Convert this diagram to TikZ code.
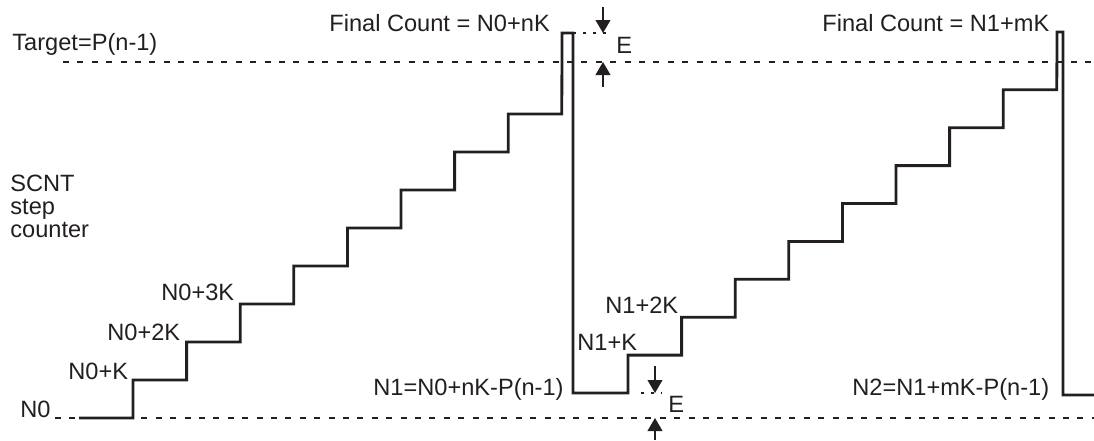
\documentclass[tikz,border=0pt]{standalone}
\usepackage{fontspec}
\setmainfont{Liberation Sans}
\usetikzlibrary{arrows.meta, positioning}
\definecolor{ink}{HTML}{231F20}

\begin{document}
\begin{tikzpicture}[
    x=0.5pt, y=-0.5pt, color=ink,
    wave/.style={line width=1.4pt, line join=miter},
    refline/.style={line width=0.9pt, dash pattern=on 3pt off 4.2pt},
    gapline/.style={line width=0.9pt, dash pattern=on 1.6pt off 3.4pt},
    gaparrow/.style={-{Triangle[length=6.5pt, width=7.4pt]}, line width=0.75pt},
    lbl/.style={inner sep=0pt, text=ink, font=\fontsize{11.8}{11.5}\selectfont}
]
\useasboundingbox (0,0) rectangle (1094,440);

% reference levels
\coordinate (tgtL) at (63,62);
\coordinate (tgtR) at (1094,62);
\coordinate (baseL) at (55,418);
\coordinate (baseR) at (1094,418);
\draw[refline] (tgtL) -- (tgtR);
\draw[refline] (baseL) -- (baseR);

% step counter waveform
\draw[wave] (79,418) -- (133,418)
    \foreach \i in {1,...,8} { -- ++(0,-38) -- ++(53.6,0) }
    -- (562,33) -- (573,33) -- (573,393) -- (628,393)
    \foreach \i in {1,...,8} { -- ++(0,-37.9) -- ++(53.6,0) }
    -- (1057,32) -- (1063,32) -- (1063,395) -- (1094,395);

% overshoot E markers
\draw[gapline] (573,33) -- (612,33);
\draw[gapline] (641,393) -- (662,393);
\coordinate (eTopA) at (603,7);
\coordinate (eTopB) at (603,33);
\coordinate (eTopC) at (603,87);
\coordinate (eTopD) at (603,62);
\coordinate (eBotA) at (655,366);
\coordinate (eBotB) at (655,393);
\coordinate (eBotC) at (655,440);
\coordinate (eBotD) at (655,418);
\draw[gaparrow] (eTopA) -- (eTopB);
\draw[gaparrow] (eTopC) -- (eTopD);
\draw[gaparrow] (eBotA) -- (eBotB);
\draw[gaparrow] (eBotC) -- (eBotD);
\node[lbl, anchor=base west] (eTop) at (616,53) {E};
\node[lbl, anchor=base west] (eBot) at (668,412) {E};

% labels
\node[lbl, anchor=base west] (target) at (12,50) {Target=P(n-1)};
\node[lbl, anchor=base west] (final0) at (329,31) {Final Count = N0+nK};
\node[lbl, anchor=base west] (final1) at (822,31) {Final Count = N1+mK};
\node[lbl, anchor=north west, align=left] (scnt) at (10,175) {SCNT\\step\\counter};
\node[lbl, anchor=base west] (n0) at (20,417) {N0};
\node[lbl, anchor=base west] (n0k) at (68,379) {N0+K};
\node[lbl, anchor=base west] (n02k) at (107,340) {N0+2K};
\node[lbl, anchor=base west] (n03k) at (161,300) {N0+3K};
\node[lbl, anchor=base west] (n1) at (373,395) {N1=N0+nK-P(n-1)};
\node[lbl, anchor=base west] (n1k) at (577,350) {N1+K};
\node[lbl, anchor=base west] (n12k) at (605,313) {N1+2K};
\node[lbl, anchor=base west] (n2) at (852,395) {N2=N1+mK-P(n-1)};
\end{tikzpicture}
\end{document}
